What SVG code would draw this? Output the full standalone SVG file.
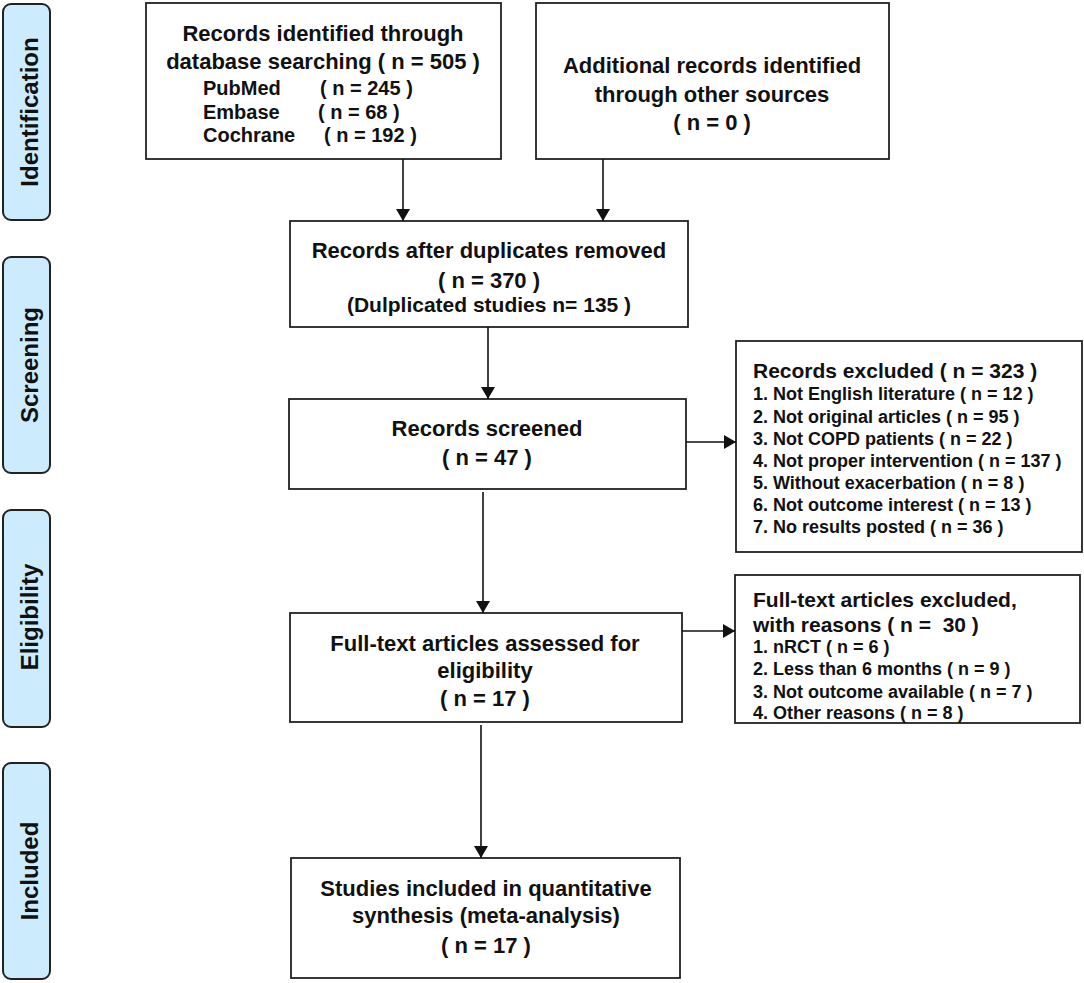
<svg xmlns="http://www.w3.org/2000/svg" width="1084" height="983" viewBox="0 0 1084 983">
<defs>
<style>
.bg{fill:#ffffff}
.bar{fill:#ccebfc;stroke:#222;stroke-width:2}
.box{fill:#ffffff;stroke:#222;stroke-width:1.8}
text{font-family:"Liberation Sans",Arial,Helvetica,sans-serif;font-weight:bold;fill:#111}
.t22{font-size:22px;text-anchor:middle}
.t21{font-size:21px}
.t20{font-size:20px}
.t18{font-size:18px}
.bt{font-size:24px;text-anchor:middle}
.c{text-anchor:middle}
.conn{stroke:#111;stroke-width:1.6;fill:none;marker-end:url(#ah)}
</style>
<marker id="ah" viewBox="0 0 12 14" refX="12" refY="7" markerWidth="12" markerHeight="14" markerUnits="userSpaceOnUse" orient="auto">
<path d="M0,0 L12,7 L0,14 Z" fill="#111"/>
</marker>
</defs>
<rect class="bg" x="0" y="0" width="1084" height="983"/>

<g id="phase-identification">
<rect class="bar" x="3" y="4" width="47" height="216" rx="8"/>
<text class="bt" transform="translate(38,112) rotate(-90)">Identification</text>
</g>
<g id="phase-screening">
<rect class="bar" x="3" y="257" width="47" height="216" rx="8"/>
<text class="bt" transform="translate(38,365) rotate(-90)">Screening</text>
</g>
<g id="phase-eligibility">
<rect class="bar" x="3" y="510" width="47" height="217" rx="8"/>
<text class="bt" transform="translate(38,617) rotate(-90)">Eligibility</text>
</g>
<g id="phase-included">
<rect class="bar" x="3" y="763" width="47" height="216" rx="8"/>
<text class="bt" transform="translate(38,871) rotate(-90)">Included</text>
</g>

<g id="node-database">
<rect class="box" x="146" y="3" width="355" height="156"/>
<text class="t22" x="323" y="41">Records identified through</text>
<text class="t22" x="323" y="69">database searching ( n = 505 )</text>
<text class="t20" x="203" y="95">PubMed</text>
<text class="t20" x="320" y="95">( n = 245 )</text>
<text class="t20" x="203" y="119">Embase</text>
<text class="t20" x="318" y="119">( n = 68 )</text>
<text class="t20" x="203" y="142">Cochrane</text>
<text class="t20" x="324" y="142">( n = 192 )</text>
</g>

<g id="node-other">
<rect class="box" x="536" y="3" width="353" height="156"/>
<text class="t22" x="712" y="73">Additional records identified</text>
<text class="t22" x="712" y="102">through other sources</text>
<text class="t22" x="712" y="130">( n = 0 )</text>
</g>

<g id="node-dedup">
<rect class="box" x="290" y="221" width="398" height="106"/>
<text class="t22" x="489" y="258">Records after duplicates removed</text>
<text class="t22" x="489" y="288">( n = 370 )</text>
<text class="t21 c" x="489" y="312">(Dulplicated studies n= 135 )</text>
</g>

<g id="node-screened">
<rect class="box" x="289" y="399" width="397" height="90"/>
<text class="t22" x="487" y="436">Records screened</text>
<text class="t22" x="487" y="465">( n = 47 )</text>
</g>

<g id="node-excluded">
<rect class="box" x="736" y="341" width="346" height="211"/>
<text class="t21" x="753" y="378">Records excluded ( n = 323 )</text>
<text class="t18" x="753" y="400">1. Not English literature ( n = 12 )</text>
<text class="t18" x="753" y="423">2. Not original articles ( n = 95 )</text>
<text class="t18" x="753" y="445">3. Not COPD patients ( n = 22 )</text>
<text class="t18" x="753" y="467">4. Not proper intervention ( n = 137 )</text>
<text class="t18" x="753" y="489">5. Without exacerbation ( n = 8 )</text>
<text class="t18" x="753" y="511">6. Not outcome interest ( n = 13 )</text>
<text class="t18" x="753" y="533">7. No results posted ( n = 36 )</text>
</g>

<g id="node-fulltext">
<rect class="box" x="290" y="613" width="392" height="109"/>
<text class="t22" x="485" y="651">Full-text articles assessed for</text>
<text class="t22" x="485" y="678">eligibility</text>
<text class="t22" x="485" y="706">( n = 17 )</text>
</g>

<g id="node-fulltext-excluded">
<rect class="box" x="735" y="575" width="345" height="148"/>
<text class="t21" x="753" y="607">Full-text articles excluded,</text>
<text class="t21" x="753" y="632" style="white-space:pre">with reasons ( n =  30 )</text>
<text class="t18" x="753" y="653">1. nRCT ( n = 6 )</text>
<text class="t18" x="753" y="675">2. Less than 6 months ( n = 9 )</text>
<text class="t18" x="753" y="698">3. Not outcome available ( n = 7 )</text>
<text class="t18" x="753" y="719">4. Other reasons ( n = 8 )</text>
</g>

<g id="node-included">
<rect class="box" x="291" y="858" width="389" height="120"/>
<text class="t22" x="486" y="896">Studies included in quantitative</text>
<text class="t22" x="486" y="923">synthesis (meta-analysis)</text>
<text class="t22" x="486" y="953">( n = 17 )</text>
</g>

<g id="connectors">
<line class="conn" x1="403" y1="159" x2="403" y2="221"/>
<line class="conn" x1="603" y1="159" x2="603" y2="221"/>
<line class="conn" x1="488" y1="327" x2="488" y2="399"/>
<line class="conn" x1="686" y1="442" x2="736" y2="442"/>
<line class="conn" x1="483" y1="492" x2="483" y2="613"/>
<line class="conn" x1="682" y1="631" x2="735" y2="631"/>
<line class="conn" x1="481" y1="725" x2="481" y2="858"/>
</g>
</svg>
